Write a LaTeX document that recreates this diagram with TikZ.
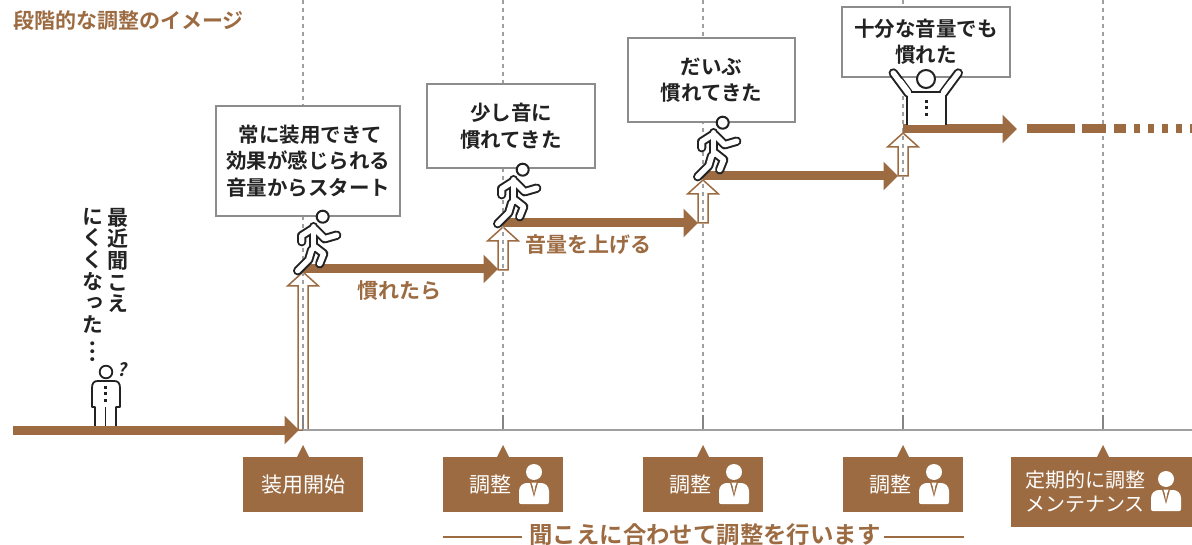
\documentclass[tikz,border=0pt]{standalone}
\usepackage{fontspec}
\usetikzlibrary{arrows.meta,calc}
\setmainfont{Noto Sans CJK JP}[BoldFont={Noto Sans CJK JP Bold}]
\newfontfamily\jptate[RawFeature={+vert}]{Noto Sans CJK JP Bold}
\definecolor{brownmain}{HTML}{9C6B42}
\definecolor{inkdark}{HTML}{222222}
\definecolor{boxgrey}{HTML}{8C8C8C}
\definecolor{gridgrey}{HTML}{A0A0A0}
\definecolor{tickgrey}{HTML}{858585}
\newcommand{\liftarrow}[2]{\draw[brownmain,line width=1.5pt,fill=white,line join=miter]
  ($(#1)+(-5,0)$) -- ($(#2)+(-5,14)$) -- ($(#2)+(-15.5,14)$) -- (#2) -- ($(#2)+(15.5,14)$) -- ($(#2)+(5,14)$) -- ($(#1)+(5,0)$) -- cycle;}
\tikzset{
  gridline/.style={gridgrey,line width=1.2pt,dash pattern=on 4pt off 4pt},
  gridtick/.style={tickgrey,line width=2pt},
  baseline/.style={gridgrey,line width=2pt},
  stepline/.style={brownmain,line width=9pt,-{Triangle[length=14.5pt,width=28pt]}},
  dashpart/.style={brownmain,line width=9pt},
  saybox/.style={draw=boxgrey,line width=2pt,fill=white,text=inkdark,font=\fontsize{20.5}{26.5}\selectfont\bfseries,align=center,anchor=north west},
  steplabel/.style={brownmain,font=\fontsize{21}{25}\selectfont\bfseries},
  tatelabel/.style={text=inkdark,font=\fontsize{21}{21.6}\selectfont\jptate,align=center,anchor=north,inner sep=0pt},
  callbox/.style={fill=brownmain,anchor=north west,inner sep=0pt},
  calltext/.style={white,font=\fontsize{21}{24.5}\selectfont,align=center},
  calltip/.style={fill=brownmain},
  outer/.style={inkdark,line width=9.4pt,line cap=round,line join=round},
  inner/.style={white,line width=5.4pt,line cap=round,line join=round},
  runner/.pic={
    \foreach \s in {outer,inner}{
      \draw[\s] (-9,10) -- (-9,32);
      \draw[\s] (-10,12) -- (-21,19) -- (-21,25);
      \draw[\s] (-8,12) -- (2,22) -- (14,18.5);
      \draw[\s] (-8,30) -- (1,37) -- (-3,47);
      \draw[\s] (-11,33) -- (-14,43) -- (-25,54);
    }
    \draw[inkdark,line width=2pt,fill=white] (0,0) circle (6pt);
  },
  staff/.pic={
    \fill[white] (0,0) circle (8pt);
    \fill[white] (-15,30) -- (-15,19) .. controls (-15,14) and (-11,11) .. (-7,11) -- (7,11)
      .. controls (11,11) and (15,14) .. (15,19) -- (15,30) .. controls (15,31.5) and (14,32) .. (13,32)
      -- (-13,32) .. controls (-14,32) and (-15,31.5) .. (-15,30) -- cycle;
    \fill[brownmain] (-4,10.5) -- (0,25) -- (4,10.5) -- cycle;
    \fill[white] (-2.6,10.5) -- (-1,15) -- (1,15) -- (2.6,10.5) -- cycle;
    \fill[white] (-1,15) -- (0,22) -- (1,15) -- cycle;
  }
}
\begin{document}
\begin{tikzpicture}[x=1pt,y=-1pt]
  \useasboundingbox (0,0) rectangle (1192,545);
  % lift arrows go under the grid
  \coordinate (lift1a) at (303,430); \coordinate (lift1b) at (303,272);
  \coordinate (lift2a) at (503,270); \coordinate (lift2b) at (503,227);
  \coordinate (lift3a) at (703,223); \coordinate (lift3b) at (703,180);
  \coordinate (lift4a) at (903,176); \coordinate (lift4b) at (903,133);
  \liftarrow{lift1a}{lift1b}
  \liftarrow{lift2a}{lift2b}
  \liftarrow{lift3a}{lift3b}
  \liftarrow{lift4a}{lift4b}
  % routine for grid
  \draw[gridline] (303,0) -- (303,430);
  \draw[gridline] (503,0) -- (503,430);
  \draw[gridline] (703,0) -- (703,430);
  \draw[gridline] (903,0) -- (903,430);
  \draw[gridline] (1103,0) -- (1103,430);
  \draw[gridtick] (303,415) -- (303,430);
  \draw[gridtick] (503,415) -- (503,430);
  \draw[gridtick] (703,415) -- (703,430);
  \draw[gridtick] (903,415) -- (903,430);
  \draw[gridtick] (1103,415) -- (1103,430);
  \draw[baseline] (303,430) -- (1192,430);

  \node[anchor=west,inner sep=0pt,brownmain,font=\fontsize{21}{25}\selectfont\bfseries] (title) at (13,21) {段階的な調整のイメージ};

  % standing person
  \draw[inkdark,line width=1.8pt,fill=white,line join=round] (95,428) -- (95,407) -- (92,407) -- (92,388)
    .. controls (92,383) and (94,381) .. (98,381) -- (114,381) .. controls (118,381) and (120,383) .. (120,388)
    -- (120,407) -- (116,407) -- (116,428) -- cycle;
  \draw[inkdark,line width=1.8pt] (105.5,407) -- (105.5,428);
  \draw[inkdark,line width=1.8pt,fill=white] (106,372) circle (6.3pt);
  \fill[inkdark] (104,386.5) rectangle (107,389.5);
  \fill[inkdark] (104,392.5) rectangle (107,395.5);
  \fill[inkdark] (104,398.5) rectangle (107,401.5);
  \node[inkdark,font=\fontsize{18}{18}\selectfont\bfseries,inner sep=0pt,xslant=.2] (ask) at (123,370) {?};

  \node[tatelabel] (tate1) at (118,208) {最\\近\\聞\\こ\\え};
  \node[tatelabel] (tate2) at (93,208) {に\\く\\く\\な\\っ\\た\\\rotatebox[origin=c]{90}{…}};

  % stairs
  \coordinate (run0a) at (13,430);  \coordinate (run0b) at (299,430);
  \coordinate (run1a) at (303,269); \coordinate (run1b) at (498,269);
  \coordinate (run2a) at (503,223); \coordinate (run2b) at (698,223);
  \coordinate (run3a) at (703,176); \coordinate (run3b) at (898,176);
  \coordinate (run4a) at (903,129); \coordinate (run4b) at (1017,129);
  \draw[stepline] (run0a) -- (run0b);
  \draw[stepline] (run1a) -- (run1b);
  \draw[stepline] (run2a) -- (run2b);
  \draw[stepline] (run3a) -- (run3b);
  \draw[stepline] (run4a) -- (run4b);
  % fading tail
  \draw[dashpart] (1027,129) -- (1075,129);
  \draw[dashpart] (1082,129) -- (1106,129);
  \draw[dashpart] (1114,129) -- (1126,129);
  \draw[dashpart] (1134,129) -- (1140,129);
  \draw[dashpart] (1148,129) -- (1154,129);
  \draw[dashpart] (1162,129) -- (1168,129);
  \draw[dashpart] (1176,129) -- (1182,129);
  \draw[dashpart] (1190,129) -- (1192,129);

  \node[steplabel] (label1) at (399,291) {慣れたら};
  \node[steplabel] (label2) at (588,245) {音量を上げる};

  % speech boxes
  \node[saybox,minimum width=184pt,minimum height=110pt] (say1) at (215,105) {\hspace*{5pt}常に装用できて\\効果が感じられる\\音量からスタート};
  \node[saybox,minimum width=168pt,minimum height=84pt] (say2) at (426,83.5) {少し音に\\慣れてきた};
  \node[saybox,minimum width=167pt,minimum height=84pt] (say3) at (627,37) {だいぶ\\慣れてきた};
  \node[saybox,minimum width=168pt,minimum height=70pt] (say4) at (841,6) {十分な音量でも\\慣れた};

  \pic at (322.7,216.7) {runner};
  \pic at (522.7,169.7) {runner};
  \pic at (722.7,122.7) {runner};

  % arms up person
  \fill[inkdark] (905.5,91) rectangle (946.5,125);
  \foreach \s in {outer,inner}{
    \draw[\s] (893.3,73) -- (908.3,93.3);
    \draw[\s] (958.3,73) -- (943.3,93.3);
  }
  \fill[white] (907.5,93) rectangle (944.5,125);
  \draw[inner] (908.3,92) -- (900,81);
  \draw[inner] (943.7,92) -- (952,81);
  \draw[inkdark,line width=2pt,fill=white] (926,79) circle (9pt);
  \fill[inkdark] (924.5,100) rectangle (927.5,103);
  \fill[inkdark] (924.5,106.5) rectangle (927.5,109.5);
  \fill[inkdark] (924.5,113.5) rectangle (927.5,116.5);

  % callouts
  \node[callbox,minimum width=120.5pt,minimum height=55pt] (call1) at (242.5,457) {};
  \node[callbox,minimum width=120.5pt,minimum height=55pt] (call2) at (442.5,457) {};
  \node[callbox,minimum width=120.5pt,minimum height=55pt] (call3) at (642.5,457) {};
  \node[callbox,minimum width=120.5pt,minimum height=55pt] (call4) at (842.5,457) {};
  \node[callbox,minimum width=181pt,minimum height=70pt] (call5) at (1011,457) {};
  \fill[calltip] (296.5,458) -- (303,445) -- (309.5,458) -- cycle;
  \fill[calltip] (496.5,458) -- (503,445) -- (509.5,458) -- cycle;
  \fill[calltip] (696.5,458) -- (703,445) -- (709.5,458) -- cycle;
  \fill[calltip] (896.5,458) -- (903,445) -- (909.5,458) -- cycle;
  \fill[calltip] (1096.5,458) -- (1103,445) -- (1109.5,458) -- cycle;
  \node[calltext] (text1) at (303,485) {装用開始};
  \node[calltext] (text2) at (490,485) {調整};
  \node[calltext] (text3) at (690,485) {調整};
  \node[calltext] (text4) at (890,485) {調整};
  \node[calltext,font=\fontsize{20}{24}\selectfont] (text5) at (1085,492) {定期的に調整\\メンテナンス};
  \pic at (534,472) {staff};
  \pic at (734,472) {staff};
  \pic at (934,472) {staff};
  \pic at (1166,479) {staff};

  % footer
  \node[brownmain,font=\fontsize{23.4}{25}\selectfont\bfseries,inner sep=0pt] (foot) at (705,534.5) {聞こえに合わせて調整を行います};
  \coordinate (footl) at (443,537); \coordinate (footr) at (964,537);
  \draw[brownmain,line width=1.4pt] (footl) -- ($(foot.west |- footl)+(-7,0)$);
  \draw[brownmain,line width=1.4pt] ($(foot.east |- footr)+(3,0)$) -- (footr);
\end{tikzpicture}
\end{document}
